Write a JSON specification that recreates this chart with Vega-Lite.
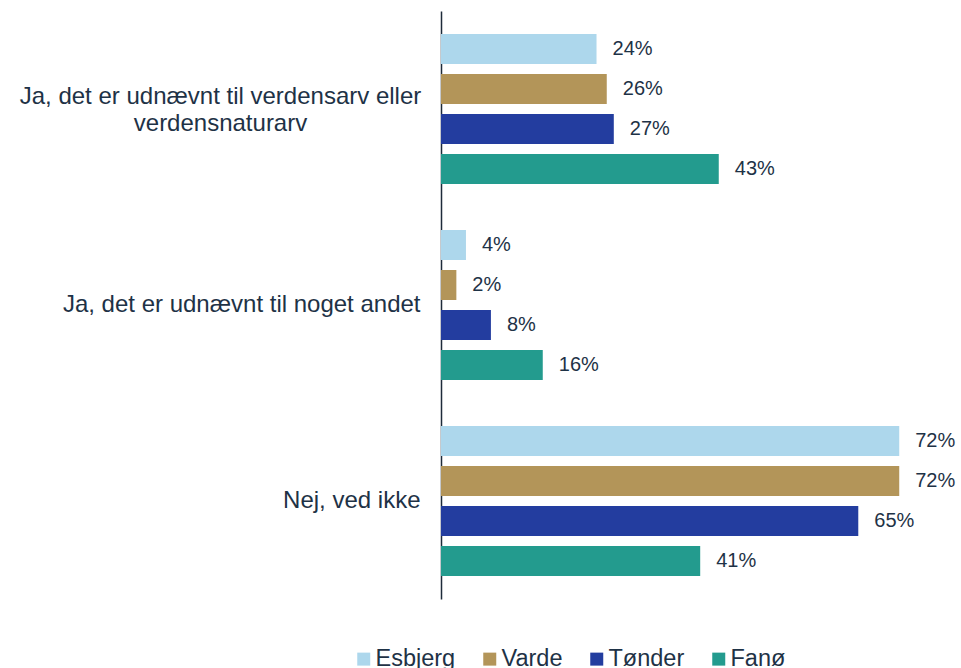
{
  "$schema": "https://vega.github.io/schema/vega-lite/v6.json",
  "width": 512,
  "height": 588,
  "autosize": {"type": "none"},
  "padding": {"left": 441, "top": 11, "right": 8, "bottom": 69},
  "background": "white",
  "config": {
    "view": {"stroke": null},
    "font": "Liberation Sans",
    "text": {"color": "#1E3246"}
  },
  "data": {
    "values": [
      {"svar": "Ja, det er udnævnt til verdensarv eller verdensnaturarv", "by": "Esbjerg", "andel": 0.243},
      {"svar": "Ja, det er udnævnt til verdensarv eller verdensnaturarv", "by": "Varde", "andel": 0.259},
      {"svar": "Ja, det er udnævnt til verdensarv eller verdensnaturarv", "by": "Tønder", "andel": 0.270},
      {"svar": "Ja, det er udnævnt til verdensarv eller verdensnaturarv", "by": "Fanø", "andel": 0.434},
      {"svar": "Ja, det er udnævnt til noget andet", "by": "Esbjerg", "andel": 0.039},
      {"svar": "Ja, det er udnævnt til noget andet", "by": "Varde", "andel": 0.024},
      {"svar": "Ja, det er udnævnt til noget andet", "by": "Tønder", "andel": 0.078},
      {"svar": "Ja, det er udnævnt til noget andet", "by": "Fanø", "andel": 0.159},
      {"svar": "Nej, ved ikke", "by": "Esbjerg", "andel": 0.716},
      {"svar": "Nej, ved ikke", "by": "Varde", "andel": 0.716},
      {"svar": "Nej, ved ikke", "by": "Tønder", "andel": 0.652},
      {"svar": "Nej, ved ikke", "by": "Fanø", "andel": 0.405}
    ]
  },
  "encoding": {
    "y": {
      "field": "svar",
      "type": "nominal",
      "sort": null,
      "scale": {"paddingInner": 0, "paddingOuter": 0},
      "axis": {
        "title": null,
        "ticks": false,
        "domainColor": "#1E2B3A",
        "domainWidth": 1.5,
        "labelFontSize": 24,
        "labelColor": "#1E3246",
        "labelLimit": 450,
        "labelLineHeight": 27,
        "labelAlign": {"condition": {"test": "datum.value === 'Ja, det er udnævnt til verdensarv eller verdensnaturarv'", "value": "center"}, "value": "right"},
        "labelPadding": {"condition": {"test": "datum.value === 'Ja, det er udnævnt til verdensarv eller verdensnaturarv'", "value": 221}, "value": 21},
        "labelOffset": {"condition": {"test": "datum.value === 'Ja, det er udnævnt til verdensarv eller verdensnaturarv'", "value": -12}, "value": 0},
        "labelExpr": "datum.value === 'Ja, det er udnævnt til verdensarv eller verdensnaturarv' ? ['Ja, det er udnævnt til verdensarv eller', 'verdensnaturarv'] : datum.value"
      }
    },
    "yOffset": {
      "field": "by",
      "type": "nominal",
      "sort": ["Esbjerg", "Varde", "Tønder", "Fanø"],
      "scale": {"paddingInner": 0.25, "paddingOuter": 0.575}
    },
    "x": {
      "field": "andel",
      "type": "quantitative",
      "scale": {"domain": [0, 0.8], "nice": false, "zero": true},
      "axis": null
    }
  },
  "layer": [
    {
      "mark": {"type": "bar"},
      "encoding": {
        "color": {
          "field": "by",
          "type": "nominal",
          "sort": ["Esbjerg", "Varde", "Tønder", "Fanø"],
          "scale": {"domain": ["Esbjerg", "Varde", "Tønder", "Fanø"], "range": ["#ADD7EC", "#B39559", "#233D9F", "#239B8E"]},
          "legend": {
            "title": null,
            "orient": "none",
            "direction": "horizontal",
            "legendX": -89,
            "legendY": 636,
            "symbolType": "square",
            "symbolSize": 169,
            "symbolStrokeWidth": 0,
            "labelFontSize": 23.5,
            "labelColor": "#1E3246",
            "labelOffset": 0,
            "columnPadding": 22
          }
        }
      }
    },
    {
      "mark": {"type": "text", "align": "left", "baseline": "middle", "dx": 16, "fontSize": 20, "color": "#1E3246"},
      "encoding": {
        "text": {"field": "andel", "type": "quantitative", "format": ".0%"}
      }
    }
  ]
}
